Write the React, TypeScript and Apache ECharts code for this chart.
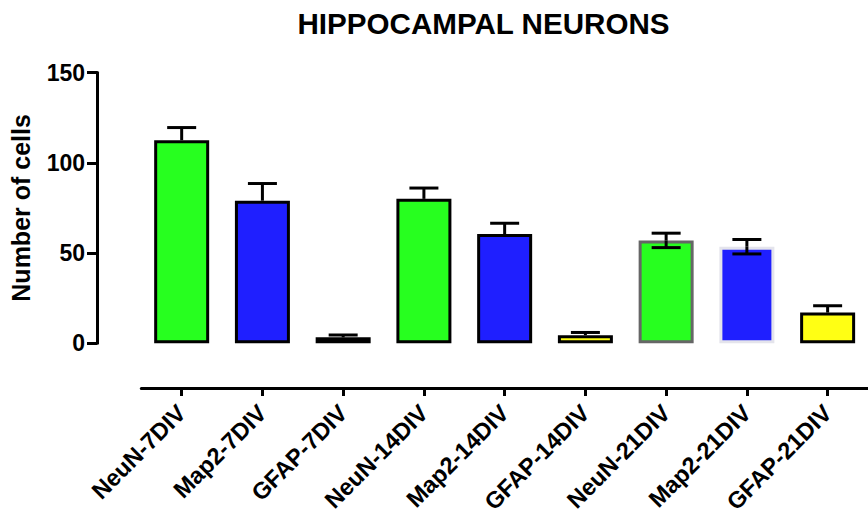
import React, { useEffect, useRef } from "react";
import * as echarts from "echarts";

const categories = [
  "NeuN-7DIV",
  "Map2-7DIV",
  "GFAP-7DIV",
  "NeuN-14DIV",
  "Map2-14DIV",
  "GFAP-14DIV",
  "NeuN-21DIV",
  "Map2-21DIV",
  "GFAP-21DIV",
];
const means = [112.5, 79, 3.3, 80, 60.5, 4.5, 57, 53.5, 17];
const sems = [7, 9.5, 1.3, 6, 6, 1.5, 4, 4, 3.8];
const errorDirection = ["up", "up", "up", "up", "up", "up", "both", "both", "up"];
const yTicks = [0, 50, 100, 150];
const title = "HIPPOCAMPAL NEURONS";
const yTitle = "Number of cells";

const GREEN = "#27FF1F";
const BLUE = "#1F1FFF";
const YELLOW = "#FFFF14";
const barColors = [GREEN, BLUE, YELLOW, GREEN, BLUE, YELLOW, GREEN, BLUE, YELLOW];
const borderColors = ["#000", "#000", "#000", "#000", "#000", "#000", "#666666", "#E4E4EC", "#000"];

const FONT = '"Liberation Sans", Arial, Helvetica, sans-serif';

export default function App() {
  const ref = useRef<HTMLDivElement>(null);

  useEffect(() => {
    if (!ref.current) return;
    const chart = echarts.init(ref.current, undefined, { renderer: "svg" });

    const option: any = {
      animation: false,
      backgroundColor: "#ffffff",
      graphic: [
        {
          type: "text",
          x: 483.5,
          y: 23,
          style: {
            text: title,
            font: `bold 29.6px ${FONT}`,
            fill: "#000",
            align: "center",
            verticalAlign: "middle",
          },
        },
      ],
      grid: {
        left: 141.3,
        top: 72.5,
        width: 732.4,
        height: 270.8,
        containLabel: false,
      },
      xAxis: {
        type: "category",
        data: categories,
        offset: 44.7,
        boundaryGap: true,
        axisLine: { show: true, onZero: false, lineStyle: { color: "#000", width: 3 } },
        axisTick: { show: true, alignWithLabel: true, length: 8, lineStyle: { color: "#000", width: 3 } },
        axisLabel: {
          rotate: 45,
          margin: 21,
          interval: 0,
          color: "#000",
          fontFamily: FONT,
          fontWeight: "bold",
          fontSize: 23.5,
        },
        splitLine: { show: false },
      },
      yAxis: {
        type: "value",
        min: yTicks[0],
        max: yTicks[yTicks.length - 1],
        interval: yTicks[1] - yTicks[0],
        offset: 44.3,
        name: yTitle,
        nameLocation: "middle",
        nameRotate: 90,
        nameGap: 64,
        nameTextStyle: {
          color: "#000",
          fontFamily: FONT,
          fontWeight: "bold",
          fontSize: 25,
        },
        axisLine: { show: true, lineStyle: { color: "#000", width: 3 } },
        axisTick: { show: true, length: 10, lineStyle: { color: "#000", width: 3 } },
        axisLabel: {
          margin: 12,
          color: "#000",
          fontFamily: FONT,
          fontWeight: "bold",
          fontSize: 23,
        },
        splitLine: { show: false },
      },
      series: [
        {
          type: "bar",
          barWidth: 55,
          data: means.map((v, i) => ({
            value: v,
            itemStyle: {
              color: barColors[i],
              borderColor: borderColors[i],
              borderWidth: 3,
            },
          })),
        },
        {
          type: "custom",
          data: means.map((v, i) => [i, v, sems[i], errorDirection[i] === "both" ? 1 : 0]),
          renderItem: (params: any, api: any) => {
            const i = api.value(0);
            const v = api.value(1);
            const e = api.value(2);
            const both = api.value(3) === 1;
            const base = api.coord([i, v]);
            const top = api.coord([i, v + e]);
            const half = 14.5;
            const style = { stroke: "#000", lineWidth: 3 };
            const children: any[] = [
              { type: "line", shape: { x1: base[0], y1: base[1], x2: top[0], y2: top[1] }, style },
              { type: "line", shape: { x1: top[0] - half, y1: top[1], x2: top[0] + half, y2: top[1] }, style },
            ];
            if (both) {
              const bot = api.coord([i, v - e]);
              children.push(
                { type: "line", shape: { x1: base[0], y1: base[1], x2: bot[0], y2: bot[1] }, style },
                { type: "line", shape: { x1: bot[0] - half, y1: bot[1], x2: bot[0] + half, y2: bot[1] }, style }
              );
            }
            return { type: "group", children };
          },
          z: 5,
        },
      ],
    };

    chart.setOption(option);
    return () => {
      chart.dispose();
    };
  }, []);

  return (
    <div
      ref={ref}
      style={{ position: "fixed", left: 0, top: 0, width: 868, height: 523, background: "#fff" }}
    />
  );
}
